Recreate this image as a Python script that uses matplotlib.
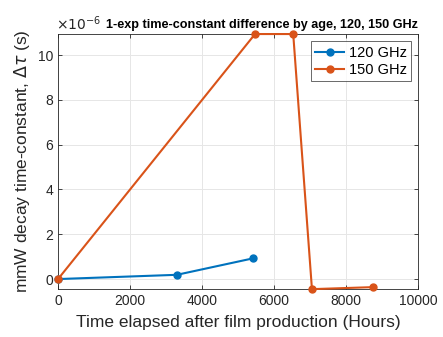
import numpy as np
import matplotlib
matplotlib.use('Agg')
import matplotlib.pyplot as plt

plt.rcParams['font.family'] = ['Liberation Sans', 'DejaVu Sans']

# time elapsed (hours) and time-constant difference (x1e-6 s)
hours_120 = [0, 3300, 5400]
dtau_120 = [0.0, 0.19, 0.92]
hours_150 = [0, 5470, 6530, 7050, 8750]
dtau_150 = [0.0, 10.94, 10.94, -0.45, -0.36]

blue = '#0072BD'
orange = '#D95319'

fig = plt.figure(figsize=(4.43, 3.37), dpi=100)
ax = fig.add_axes([0.131, 0.142, 0.813, 0.757])

ax.plot(hours_120, dtau_120, '-o', color=blue, lw=1.5, ms=5, label='120 GHz', clip_on=False, zorder=3)
ax.plot(hours_150, dtau_150, '-o', color=orange, lw=1.5, ms=5, label='150 GHz', clip_on=False, zorder=3)

ax.set_xlim(0, 10000)
ax.set_ylim(-0.45, 10.94)
ax.set_xticks([0, 2000, 4000, 6000, 8000, 10000])
ax.set_yticks([0, 2, 4, 6, 8, 10])
ax.grid(True, color='#e6e6e6', lw=0.7)
ax.set_axisbelow(True)
for s in ax.spines.values():
    s.set_color('#262626')
    s.set_linewidth(0.6)
ax.tick_params(direction='in', length=3, width=0.6, labelsize=10, colors='#262626',
               top=True, right=True)

ax.set_xlabel('Time elapsed after film production (Hours)', fontsize=12.5, color='#262626', labelpad=5)
ax.set_ylabel(r'mmW decay time-constant, $\Delta\tau$ (s)', fontsize=12.5, color='#262626', labelpad=4)
ax.text(-0.005, 1.005, r'$\times10^{-6}$', transform=ax.transAxes, fontsize=10,
        color='#262626', ha='left', va='bottom')
ax.text(1.0, 1.01, '1-exp time-constant difference by age, 120, 150 GHz', transform=ax.transAxes,
        fontsize=9.1, fontweight='bold', ha='right', va='bottom')

leg = ax.legend(loc='upper right', fontsize=10.5, frameon=True, fancybox=False,
                edgecolor='#262626', borderpad=0.3, handlelength=2.0, handletextpad=0.3,
                labelspacing=0.2, borderaxespad=0.5)
leg.get_frame().set_linewidth(0.6)

fig.savefig('out.png', dpi=100)
